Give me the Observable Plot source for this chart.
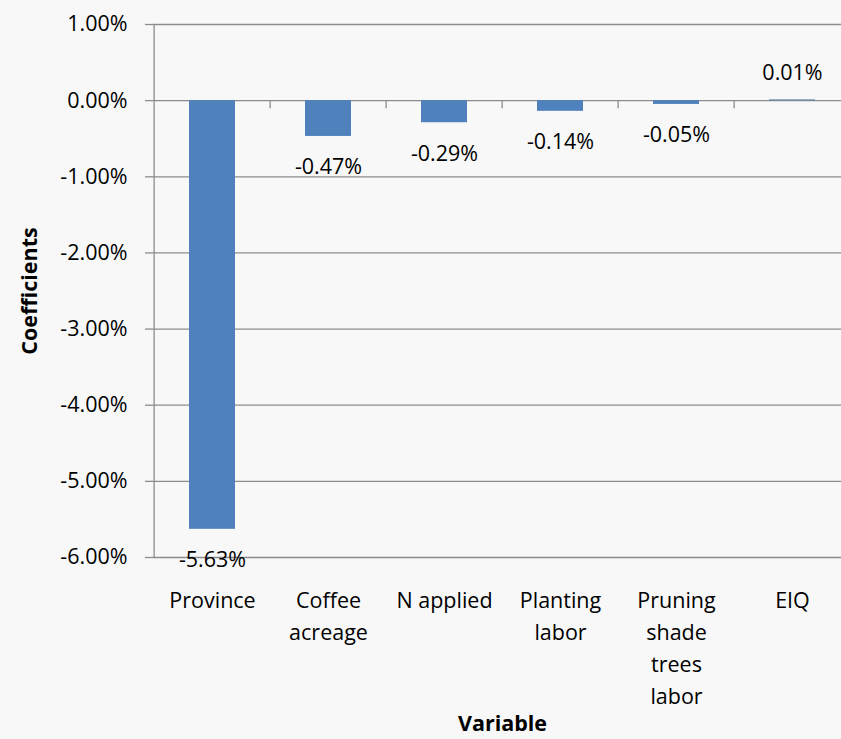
<!DOCTYPE html>
<html>
<head>
<meta charset="utf-8">
<script src="https://cdn.jsdelivr.net/npm/d3@7"></script>
<script src="https://cdn.jsdelivr.net/npm/@observablehq/plot@0.6"></script>
<style>
  html, body { margin: 0; padding: 0; background: #f8f8f8; overflow: hidden; }
  svg { display: block; }
</style>
</head>
<body>
<div id="chart"></div>
<script>
const categories = ["Province", "Coffee acreage", "N applied", "Planting labor", "Pruning shade trees labor", "EIQ"];
const tickLabels = ["Province", "Coffee\nacreage", "N applied", "Planting\nlabor", "Pruning\nshade\ntrees\nlabor", "EIQ"];
const values = [-5.63, -0.47, -0.29, -0.14, -0.05, 0.01];
const yTicks = [1, 0, -1, -2, -3, -4, -5, -6];
const xTitle = "Variable";
const yTitle = "Coefficients";

const data = categories.map((c, i) => ({cat: c, label: tickLabels[i], value: values[i]}));
const fmt = d => d.toFixed(2) + "%";
const grid = "#8c8c8c";
const FS = 21.5;

const chart = Plot.plot({
  width: 841,
  height: 739,
  marginTop: 24,
  marginBottom: 182,
  marginLeft: 153,
  marginRight: 0,
  style: {background: "#f8f8f8", fontFamily: "'Open Sans', sans-serif", fontSize: FS + "px", color: "#000"},
  x: {domain: categories, range: [152, 852.5], paddingInner: 0.6, paddingOuter: 0.3, axis: null},
  y: {domain: [-6, 1], axis: null},
  marks: [
    Plot.gridY(yTicks, {stroke: grid, strokeOpacity: 1, strokeWidth: 1.3}),
    Plot.axisY(yTicks, {label: null, tickSize: 8, tickPadding: 18, tickFormat: fmt, stroke: grid, strokeWidth: 1.3, fontSize: FS, fill: "#000"}),
    Plot.ruleX([categories[0]], {x: d => d, y1: -6, y2: 1, dx: -58.375, stroke: grid, strokeWidth: 1.3}),
    Plot.ruleX(categories.slice(1), {x: d => d, y1: 0, y2: -0.105, dx: -58.375, stroke: grid, strokeWidth: 1.3}),
    Plot.barY(data, {x: "cat", y: "value", fill: "#4f81bd"}),
    Plot.text(data, {x: "cat", y: "value", text: d => fmt(d.value), fontSize: FS, fill: "#000",
      lineAnchor: "middle", filter: d => d.value < 0, dy: 31}),
    Plot.text(data, {x: "cat", y: "value", text: d => fmt(d.value), fontSize: FS, fill: "#000",
      lineAnchor: "middle", filter: d => d.value >= 0, dy: -27}),
    Plot.text(data, {x: "cat", text: "label", frameAnchor: "bottom", lineAnchor: "top", dy: 28,
      lineHeight: 32 / FS, fontSize: FS, fill: "#000"}),
    Plot.text([xTitle], {frameAnchor: "bottom", textAnchor: "middle", dx: 5, dy: 167, fontSize: 21.5, fontWeight: "bold", fill: "#000", lineAnchor: "middle"}),
    Plot.text([yTitle], {frameAnchor: "left", textAnchor: "middle", dx: -123, rotate: -90, fontSize: 21.5, fontWeight: "bold", fill: "#000", lineAnchor: "middle"})
  ]
});
document.getElementById("chart").append(chart);
</script>
</body>
</html>
